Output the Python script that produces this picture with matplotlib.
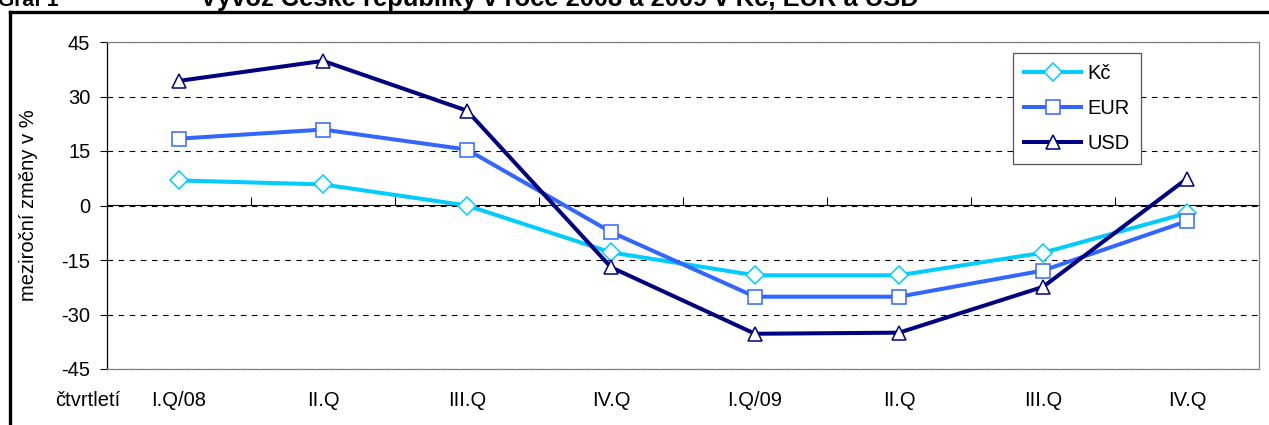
import matplotlib
matplotlib.use("Agg")
import matplotlib.pyplot as plt
from matplotlib.lines import Line2D

plt.rcParams['font.family'] = ['Liberation Sans', 'DejaVu Sans']
plt.rcParams['axes.unicode_minus'] = False

# data (year-on-year change in %)
quarters = ["I.Q/08", "II.Q", "III.Q", "IV.Q", "I.Q/09", "II.Q", "III.Q", "IV.Q"]
czk = [6.9, 5.8, 0.0, -12.9, -19.2, -19.2, -13.0, -2.1]
eur = [18.4, 20.9, 15.4, -7.3, -25.1, -25.1, -17.9, -4.3]
usd = [34.3, 39.8, 26.1, -17.0, -35.3, -35.0, -22.4, 7.4]
series_names = ["Kč", "EUR", "USD"]

W, H = 1269, 425
FS = 14.5
fig = plt.figure(figsize=(W / 100, H / 100), dpi=100)

# plot area in pixels: x 107..1259, y 42..369
ax = fig.add_axes([107 / W, 1 - 369 / H, (1259 - 107) / W, (369 - 42) / H])

x = list(range(len(quarters)))
ax.plot(x, czk, color='#00CCFF', lw=2.9, marker='D', ms=9, mfc='white',
        mec='#00CCFF', mew=1.1, label=series_names[0], zorder=4)
ax.plot(x, eur, color='#3366FF', lw=2.9, marker='s', ms=9.5, mfc='white',
        mec='#3366FF', mew=1.1, label=series_names[1], zorder=4)
ax.plot(x, usd, color='#000080', lw=2.9, marker='^', ms=10.5, mfc='white',
        mec='#000080', mew=1.1, label=series_names[2], zorder=4)

ax.set_xlim(-0.5, len(quarters) - 0.5)
ax.set_ylim(-45, 45)
ax.set_yticks(range(-45, 46, 15))
ax.yaxis.grid(True, linestyle=(0, (5, 5)), color='black', lw=0.8)
ax.set_axisbelow(True)

ax.set_xticks(x)
ax.set_xticklabels(quarters)
ax.tick_params(axis='x', length=0, pad=16, labelsize=FS)
ax.tick_params(axis='y', length=5, width=0.8, pad=7, labelsize=FS)

for s in ['top', 'right', 'bottom']:
    ax.spines[s].set_color('#808080')
    ax.spines[s].set_linewidth(0.9)
ax.spines['left'].set_color('black')
ax.spines['left'].set_linewidth(0.9)

# zero line with category boundary ticks
sec = ax.secondary_xaxis(0.5)
sec.set_xticks([i + 0.5 for i in x[:-1]])
sec.set_xticklabels([])
sec.tick_params(axis='x', direction='out', length=6, width=0.8)
sec.spines['bottom'].set_linewidth(0.9)

ax.set_ylabel("meziroční změny v %", fontsize=FS)
ax.yaxis.set_label_coords(-69 / (1259 - 107), 0.5)

fig.text(55 / W, 1 - 400 / H, "čtvrtletí", fontsize=FS, va='center', ha='left')

leg = ax.legend(loc='upper left', bbox_to_anchor=(1013 / W, 1 - 53 / H),
                bbox_transform=fig.transFigure, borderaxespad=0,
                fontsize=FS, fancybox=False, edgecolor='#555555',
                framealpha=1, handlelength=2.85, handletextpad=0.3,
                labelspacing=0.8, borderpad=0.55)
leg.get_frame().set_linewidth(0.9)

# title (partly cut by the top edge, as in the source) and outer frame
fig.text(-2 / W, 1 - 6 / H, "Graf 1", fontsize=15, fontweight='bold',
         va='baseline', ha='left')
fig.text(200 / W, 1 - 6 / H,
         "Vývoz České republiky v roce 2008 a 2009 v Kč, EUR a USD",
         fontsize=18.4, fontweight='bold', va='baseline', ha='left')
fig.add_artist(Line2D([10 / W, 10 / W], [0, 1 - 12 / H], color='black', lw=2.4))
fig.add_artist(Line2D([10 / W, 1], [1 - 12 / H, 1 - 12 / H], color='black', lw=2.4))

fig.savefig("out.png", dpi=100)
